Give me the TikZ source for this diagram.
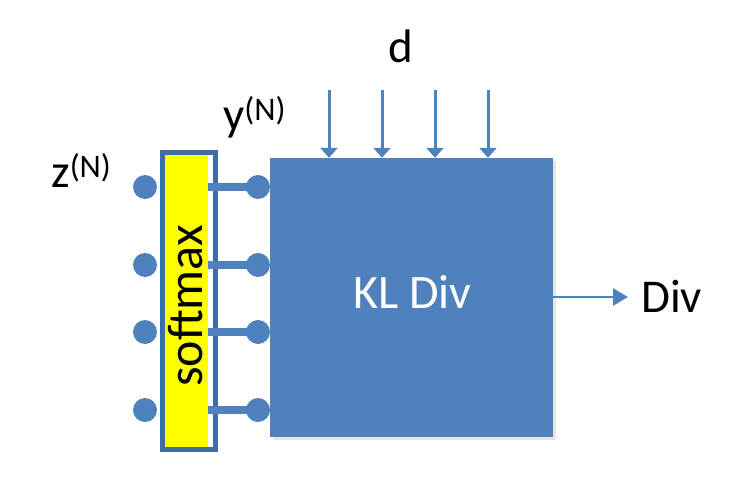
\documentclass[tikz,border=0pt]{standalone}
\usepackage{fontspec}
\setmainfont{Carlito}
\usetikzlibrary{arrows.meta}
\definecolor{blu}{HTML}{4F81BD}
\definecolor{bord}{HTML}{3F6CA3}
\definecolor{yel}{HTML}{FFFF00}
\tikzset{
  bigfont/.style={font=\fontsize{47}{56}\selectfont, inner sep=0pt},
  dot/.style={circle, fill=blu, inner sep=0pt, minimum size=24pt},
  conn/.style={draw=blu, line width=7.5pt},
  inarrow/.style={draw=blu, line width=3pt, -{Triangle[width=17pt,length=10pt]}},
  outarrow/.style={draw=blu, line width=2.5pt, -{Triangle[width=17pt,length=15pt]}},
}
\begin{document}
\begin{tikzpicture}[x=1pt,y=-1pt]
\useasboundingbox (0,0) rectangle (748,479);
% KL Div box with faint shadow
\fill[black!10] (273,161) rectangle (556,440);
\node[fill=blu, inner sep=0pt, minimum width=283pt, minimum height=279pt] (kl) at (411.5,297.5) {};
\node[anchor=base, text=white, font=\fontsize{48}{56}\selectfont, inner sep=0pt] (klt) at (412.5,308) {KL Div};
% softmax box
\fill[yel] (165,155) rectangle (208,449);
\node[draw=bord, line width=5pt, inner sep=0pt, minimum width=53pt, minimum height=297pt] (sm) at (189,301) {};
\node[rotate=90, anchor=base, inner sep=0pt, font=\fontsize{50}{58}\selectfont] (smt) at (202,306) {softmax};
% rows
\foreach \i/\y in {1/187,2/265,3/332,4/410}{
  \node[dot] (l\i) at (145,\y) {};
  \node[dot] (r\i) at (258,\y) {};
  \coordinate (s\i) at (208,\y);
  \draw[conn] (s\i) -- (r\i.center);
}
% top arrows
\foreach \i/\x in {1/329,2/382,3/435,4/488}{
  \coordinate (t\i) at (\x,90);
  \draw[inarrow] (t\i) -- (t\i |- kl.north);
}
% output
\coordinate (o) at (628,297);
\draw[outarrow] (kl.east |- o) -- (o);
% labels
\node[bigfont, anchor=base] (d) at (401,62) {d};
\node[bigfont, anchor=base west] (div) at (641,312) {Div};
\node[bigfont, anchor=base west] (y) at (223,130) {y\textsuperscript{(N)}};
\node[bigfont, anchor=base west] (z) at (51,187) {z\textsuperscript{(N)}};
\end{tikzpicture}
\end{document}
